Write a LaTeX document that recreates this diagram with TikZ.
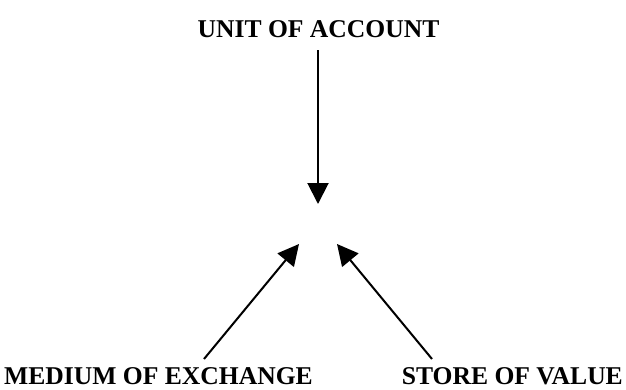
\documentclass[tikz,border=0pt]{standalone}
\usepackage{fontspec}
\setmainfont{Liberation Serif}
\usetikzlibrary{arrows.meta}
\begin{document}
\begin{tikzpicture}[x=1pt,y=-1pt,
  lbl/.style={inner sep=0pt,text depth=0pt,font=\fontsize{25.6}{30}\selectfont\bfseries},
  conn/.style={line width=2pt,-{Triangle[length=21pt,width=21pt]}}]
\useasboundingbox (0,0) rectangle (626,389);
\node[lbl,anchor=base] (unit) at (318.5,37) {UNIT OF ACCOUNT};
\node[lbl,anchor=base west] (medium) at (4,384) {MEDIUM OF EXCHANGE};
\node[lbl,anchor=base east] (store) at (623,384) {STORE OF VALUE};
\coordinate (utail) at (318,50);
\coordinate (utip) at (318,204);
\coordinate (mtail) at (204,359);
\coordinate (mtip) at (299,244);
\coordinate (stail) at (432,359);
\coordinate (stip) at (337,244);
\draw[conn] (utail) -- (utip);
\draw[conn] (mtail) -- (mtip);
\draw[conn] (stail) -- (stip);
\end{tikzpicture}
\end{document}
